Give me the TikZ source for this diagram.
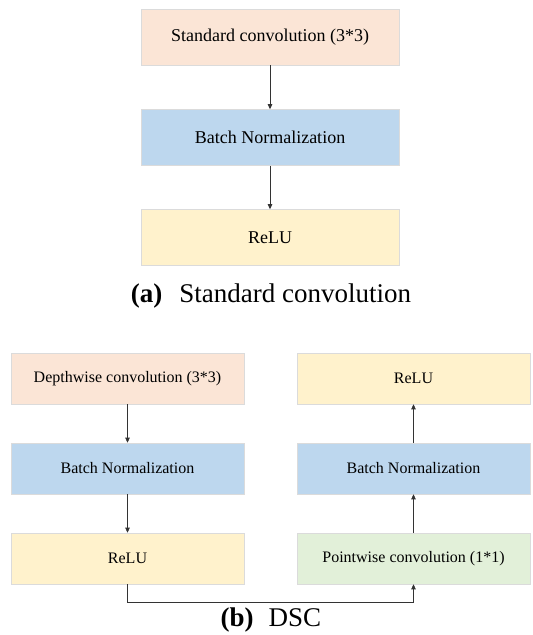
\documentclass[tikz,border=0pt]{standalone}
\usepackage{fontspec}
\setmainfont{Liberation Serif}
\usepackage{tikz}
\usetikzlibrary{positioning, arrows.meta, calc}
\definecolor{convc}{HTML}{FBE5D6}
\definecolor{bnc}{HTML}{BDD7EE}
\definecolor{reluc}{HTML}{FFF2CC}
\definecolor{pwc}{HTML}{E2F0D9}

\begin{document}
\begin{tikzpicture}[x=1pt, y=-1pt, >={Triangle[length=5pt, width=4.5pt]},
  blk/.style={draw=black!14, line width=0.6pt, minimum width=258pt, minimum height=56pt, inner sep=0pt, font=\fontsize{18}{20}\selectfont},
  sblk/.style={blk, minimum width=233pt, minimum height=51pt, font=\fontsize{16}{18}\selectfont},
  arr/.style={->, black!80, line width=0.7pt},
  subcap/.style={font=\fontsize{27}{30}\selectfont}]
\useasboundingbox (0,0) rectangle (533,635);
% (a) standard convolution
\node[blk, fill=convc] (sc)  at (270,37)    {Standard convolution (3*3)};
\node[blk, fill=bnc]   (bn)  at (270,137.5) {Batch Normalization};
\node[blk, fill=reluc] (re)  at (270,237.5) {ReLU};
\draw[arr] (sc) -- (bn);
\draw[arr] (bn) -- (re);
\node[subcap] (capa) at (271,296) {\textbf{(a)}\hspace{17pt}Standard convolution};
% (b) DSC
\node[sblk, fill=convc] (dw)  at (127.5,378.5) {Depthwise convolution (3*3)};
\node[sblk, fill=bnc]   (bn1) at (127.5,468.5) {Batch Normalization};
\node[sblk, fill=reluc] (re1) at (127.5,558.5) {ReLU};
\node[sblk, fill=pwc]   (pw)  at (413.5,558.5) {Pointwise convolution (1*1)};
\node[sblk, fill=bnc]   (bn2) at (413.5,468.5) {Batch Normalization};
\node[sblk, fill=reluc] (re2) at (413.5,378.5) {ReLU};
\draw[arr] (dw) -- (bn1);
\draw[arr] (bn1) -- (re1);
\draw[arr] (re1.south) -- ++(0,18) -| (pw.south);
\draw[arr] (pw) -- (bn2);
\draw[arr] (bn2) -- (re2);
\node[subcap] (capb) at (271,620) {\textbf{(b)}\hspace{15pt}DSC};
\end{tikzpicture}
\end{document}
